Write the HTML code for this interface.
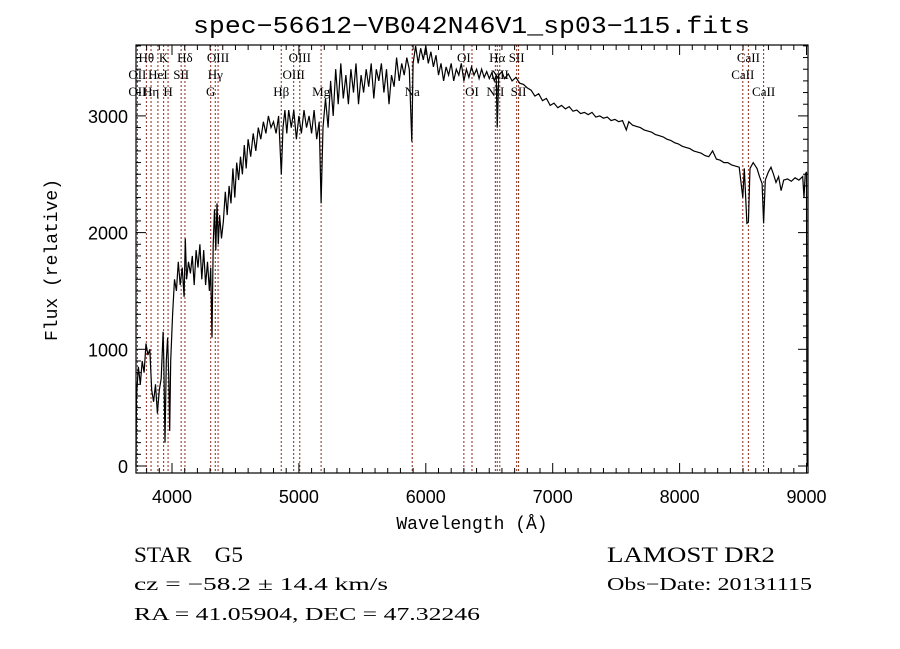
<!DOCTYPE html>
<html><head><meta charset="utf-8"><style>
html,body{margin:0;padding:0;background:#fff;}
svg{display:block;}
text{fill:#000;}
</style></head><body>
<svg id="chart" width="900" height="649" xmlns="http://www.w3.org/2000/svg">
<rect x="0" y="0" width="900" height="649" fill="#fff"/>
<text x="193" y="33" textLength="557" lengthAdjust="spacingAndGlyphs" font-family="Liberation Mono, monospace" font-size="24">spec−56612−VB042N46V1_sp03−115.fits</text>
<text transform="translate(57,260) rotate(-90)" text-anchor="middle" font-family="Liberation Mono, monospace" font-size="18">Flux (relative)</text>
<text x="472" y="529" text-anchor="middle" font-family="Liberation Mono, monospace" font-size="18">Wavelength (Å)</text>
<g id="lines"></g>
<g id="labels"></g>
<path id="spec" fill="none" stroke="#000" stroke-width="1.2"/>
<g id="axes"></g>
<rect x="136" y="45" width="672" height="428" fill="none" stroke="#000" stroke-width="1.2"/>
<text x="134" y="562" textLength="109" lengthAdjust="spacingAndGlyphs" font-family="Liberation Serif, serif" font-size="22">STAR&#160;&#160;&#160;&#160;G5</text>
<text x="134" y="590" textLength="254" lengthAdjust="spacingAndGlyphs" font-family="Liberation Serif, serif" font-size="18">cz = −58.2 ± 14.4 km/s</text>
<text x="134" y="620" textLength="346" lengthAdjust="spacingAndGlyphs" font-family="Liberation Serif, serif" font-size="18">RA =  41.05904, DEC =  47.32246</text>
<text x="607" y="562" textLength="168" lengthAdjust="spacingAndGlyphs" font-family="Liberation Serif, serif" font-size="22">LAMOST DR2</text>
<text x="607" y="590" textLength="205" lengthAdjust="spacingAndGlyphs" font-family="Liberation Serif, serif" font-size="18">Obs−Date: 20131115</text>
</svg>
<script>
const wave=[3716,3720,3735,3750,3765,3780,3795,3810,3825,3840,3855,3870,3885,3900,3915,3930,3935,3945,3955,3965,3975,3982,3990,4005,4020,4035,4050,4065,4080,4095,4105,4115,4130,4145,4160,4175,4190,4205,4220,4235,4250,4265,4280,4295,4305,4315,4325,4335,4345,4355,4365,4375,4390,4405,4420,4435,4450,4465,4480,4495,4510,4525,4540,4555,4570,4585,4600,4620,4640,4660,4680,4700,4720,4740,4760,4780,4800,4820,4840,4861,4875,4890,4905,4920,4940,4960,4980,5000,5020,5040,5060,5080,5100,5120,5140,5160,5175,5190,5210,5230,5250,5270,5290,5310,5330,5350,5370,5390,5410,5430,5450,5470,5490,5510,5530,5550,5570,5590,5610,5630,5650,5670,5690,5710,5730,5750,5770,5790,5810,5830,5850,5870,5890,5900,5920,5940,5960,5980,6000,6020,6040,6060,6080,6100,6120,6140,6160,6180,6200,6220,6240,6260,6280,6300,6320,6340,6360,6380,6400,6420,6440,6460,6480,6500,6520,6540,6555,6563,6575,6600,6620,6650,6680,6710,6740,6770,6800,6830,6860,6890,6920,6950,6980,7010,7040,7070,7100,7130,7160,7190,7220,7250,7280,7310,7340,7370,7400,7430,7460,7490,7520,7550,7580,7600,7630,7660,7690,7720,7750,7780,7810,7840,7870,7900,7930,7960,7990,8020,8050,8080,8110,8140,8170,8200,8230,8260,8290,8320,8350,8380,8410,8440,8470,8498,8510,8530,8542,8555,8580,8610,8630,8650,8662,8675,8700,8720,8740,8760,8780,8800,8820,8850,8880,8910,8940,8970,8980,8990,9000,9003,9005];
const flux=[0,600,850,700,900,800,1050,950,1000,650,550,700,450,650,750,1150,900,200,900,1100,750,300,900,1300,1600,1500,1750,1550,1700,1450,1950,1600,1750,1650,1800,1550,1850,1700,1900,1600,1850,1550,1750,1500,1700,1100,1900,2200,1850,2250,1900,2150,1950,2100,2350,2150,2400,2250,2550,2300,2600,2450,2650,2500,2750,2550,2800,2650,2850,2700,2900,2800,2950,2850,3000,2900,2950,2850,3000,2500,2900,3050,2850,3050,2900,3050,2800,3000,2850,3050,2900,3000,2850,3050,2800,2950,2250,2900,3150,2900,3300,3000,3400,3100,3450,3150,3350,3100,3400,3200,3450,3100,3350,3200,3400,3250,3450,3150,3400,3300,3450,3200,3400,3100,3350,3250,3500,3300,3450,3350,3500,3400,2780,3450,3600,3450,3580,3480,3600,3450,3550,3420,3520,3350,3450,3300,3420,3350,3450,3300,3400,3350,3450,3300,3400,3330,3420,3350,3400,3320,3400,3330,3380,3320,3370,3300,3350,2900,3350,3380,3320,3360,3300,3330,3280,3270,3240,3220,3170,3190,3130,3150,3090,3110,3070,3090,3060,3080,3040,3050,3020,3030,3010,3030,2990,3000,2980,2990,2960,2970,2950,2960,2880,2950,2920,2910,2900,2880,2870,2860,2840,2830,2820,2800,2790,2770,2760,2740,2730,2720,2700,2690,2680,2660,2650,2700,2630,2620,2600,2600,2580,2570,2560,2300,2550,2080,2090,2550,2600,2550,2480,2420,2080,2450,2520,2560,2500,2430,2480,2360,2450,2460,2440,2470,2450,2480,2300,2500,2520,400,0];
const lineWaves=[3727,3798,3835,3889,3934,3969,4072,4102,4305,4341,4363,4861,4959,5007,5175,5893,6300,6364,6548,6563,6583,6716,6731,8498,8542,8662];
const labelText=["Hθ","K","Hδ","OIII","OIII","OI","Hα","SII","CaII","OII","HeI","SII","Hγ","OIII","NII","CaII","OII","Hη","H","G","Hβ","Mg","Na","OI","NII","SII","CaII"];
const labelWave=[3798,3934,4102,4363,5007,6300,6563,6716,8542,3727,3889,4072,4341,4959,6583,8498,3727,3835,3969,4305,4861,5175,5893,6364,6548,6731,8662];
const labelRow=[0,0,0,0,0,0,0,0,0,1,1,1,1,1,1,1,2,2,2,2,2,2,2,2,2,2,2];
const xTicks=[4000,5000,6000,7000,8000,9000];
const yTicks=[0,1000,2000,3000];
const X0=136,X1=808,Y0=45,Y1=473;
function sx(w){return 172+(w-4000)*0.1269;}
function sy(f){return 466-f*0.1167;}
const NS="http://www.w3.org/2000/svg";
function mk(tag,attrs,parent){const e=document.createElementNS(NS,tag);for(const k in attrs)e.setAttribute(k,attrs[k]);parent.appendChild(e);return e;}
let d="";
for(let i=0;i<wave.length;i++){d+=(i?"L":"M")+sx(wave[i]).toFixed(1)+","+sy(flux[i]).toFixed(1);}
document.getElementById("spec").setAttribute("d",d);
const lg=document.getElementById("lines");
lineWaves.forEach(w=>{const l=mk("line",{x1:sx(w),x2:sx(w),y1:Y0,y2:Y1,stroke:"#8b2a1a","stroke-width":1,"stroke-dasharray":"2,2"},lg);

});
const lb=document.getElementById("labels");
const rowY=[62,79,96];
labelText.forEach((t,i)=>{const e=mk("text",{x:sx(labelWave[i]),y:rowY[labelRow[i]],"text-anchor":"middle","font-family":"Liberation Serif, serif","font-size":"13"},lb);e.textContent=t;

});
const ax=document.getElementById("axes");
for(let w=3800;w<=9000;w+=100){const major=w%1000===0;const len=major?10:5;const x=sx(w);if(x<X0||x>X1)continue;
mk("line",{x1:x,x2:x,y1:Y1,y2:Y1-len,stroke:"#000","stroke-width":1},ax);
mk("line",{x1:x,x2:x,y1:Y0,y2:Y0+len,stroke:"#000","stroke-width":1},ax);}
for(let f=0;f<=3600;f+=100){const major=f%1000===0;const len=major?10:5;const y=sy(f);if(y<Y0)continue;
mk("line",{x1:X0,x2:X0+len,y1:y,y2:y,stroke:"#000","stroke-width":1},ax);
mk("line",{x1:X1,x2:X1-len,y1:y,y2:y,stroke:"#000","stroke-width":1},ax);}
xTicks.forEach(w=>{const e=mk("text",{x:sx(w),y:503,"text-anchor":"middle","font-family":"Liberation Sans, sans-serif","font-size":"18"},ax);e.textContent=w;

});
yTicks.forEach(f=>{const e=mk("text",{x:128,y:sy(f)+7,"text-anchor":"end","font-family":"Liberation Sans, sans-serif","font-size":"18"},ax);e.textContent=f;

});
</script>
</body></html>
